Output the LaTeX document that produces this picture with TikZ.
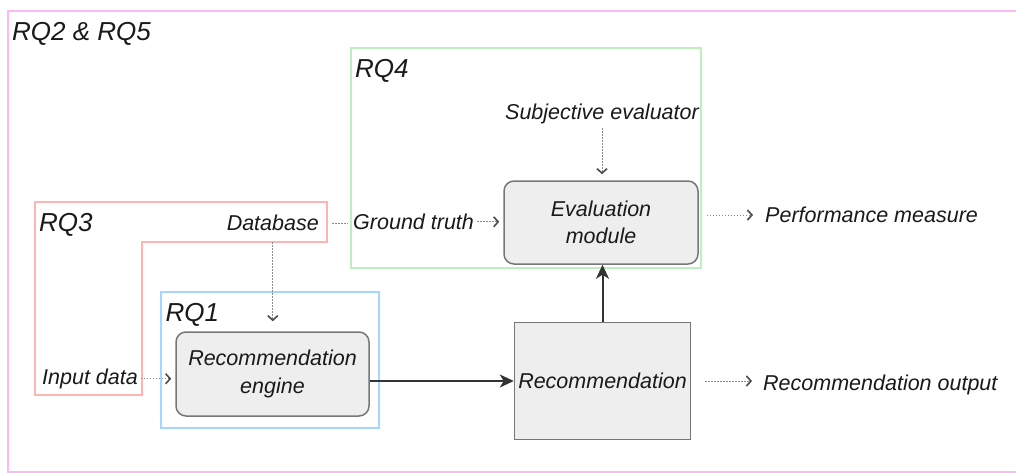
\documentclass[tikz,border=0pt]{standalone}
\usepackage{fontspec}
\setmainfont{Liberation Sans}
\usetikzlibrary{arrows.meta,calc}
\definecolor{pinkc}{HTML}{FFB8F5}
\definecolor{redc}{HTML}{FFB3B3}
\definecolor{greenc}{HTML}{BFEFBF}
\definecolor{bluec}{HTML}{A6D5FF}
\definecolor{boxfill}{HTML}{EEEEEE}
\definecolor{boxdraw}{HTML}{777777}
\definecolor{dotc}{HTML}{8C8C8C}
\definecolor{thickc}{HTML}{333333}
\definecolor{txtc}{HTML}{1A1A1A}
\begin{document}
\begin{tikzpicture}[x=1pt,y=-1pt,
  lbl/.style={inner sep=0pt, font=\fontsize{21.5}{28}\selectfont\itshape, text=txtc},
  rqlbl/.style={inner sep=0pt, font=\fontsize{26}{30}\selectfont\itshape, text=txtc},
  procbox/.style={draw=boxdraw, fill=boxfill, line width=1.5pt, rounded corners=10pt,
    align=center, inner sep=0pt, font=\fontsize{21.5}{27.5}\selectfont\itshape, text=txtc},
  recbox/.style={draw=boxdraw, fill=boxfill, line width=1.5pt,
    inner sep=0pt, font=\fontsize{21.5}{27.5}\selectfont\itshape, text=txtc,
    minimum width=176pt, minimum height=117pt},
  region/.style={line width=1.3pt},
  dotline/.style={draw=dotc, line width=1pt, dash pattern=on 1.5pt off 1.5pt},
  dotarrow/.style={dotline, -{Straight Barb[length=4.5pt,width=10pt,line width=1.6pt,color=black!70]}},
  thickarrow/.style={draw=thickc, line width=2pt, -{Stealth[length=14pt,width=13pt,inset=4pt]}}
]
\useasboundingbox (0,0) rectangle (1016,473);
\fill[white] (0,0) rectangle (1016,473);

% region frames
\draw[region, draw=pinkc] (1016,11) -- (8,11) -- (8,472) -- (1016,472);
\draw[region, draw=greenc] (351,48) rectangle (701,268);
\draw[region, draw=bluec] (161,292) rectangle (379,428);
\draw[region, draw=redc] (35,202) -- (327,202) -- (327,242) -- (142,242) -- (142,395) -- (35,395) -- cycle;

% region labels
\node[rqlbl, anchor=base west] (rq25) at (12,40.5) {RQ2 \& RQ5};
\node[rqlbl, anchor=base west] (rq4) at (355,78) {RQ4};
\node[rqlbl, anchor=base west] (rq3) at (39,231.5) {RQ3};
\node[rqlbl, anchor=base west] (rq1) at (165.5,321.5) {RQ1};

% process boxes
\node[procbox, minimum width=193pt, minimum height=84pt] (engine) at (272.5,374) {Recommendation\\engine};
\node[procbox, minimum width=194pt, minimum height=83pt] (eval) at (601,222.5) {Evaluation\\module};
\node[recbox] (rec) at (602.5,381) {Recommendation};

% text labels
\node[lbl, anchor=base east] (db) at (319,230.7) {Database};
\node[lbl, anchor=base west] (gt) at (353,229.5) {Ground truth};
\node[lbl, anchor=base west] (input) at (42,384.3) {Input data};
\node[lbl, anchor=base] (subj) at (602,119.3) {Subjective evaluator};
\node[lbl, anchor=base west] (perf) at (765,222.7) {Performance measure};
\node[lbl, anchor=base west] (out) at (763,390.7) {Recommendation output};

% dotted connectors
\draw[dotarrow, shorten <=2.5pt, shorten >=4pt] (input.east) -- (input.east -| engine.west);
\draw[dotarrow, shorten <=11pt, shorten >=10pt] (db.south) -- (db.south |- engine.north);
\draw[dotline, shorten <=13pt, shorten >=5pt] (db.east) -- (db.east -| gt.west);
\draw[dotarrow, shorten <=3pt, shorten >=4pt] (gt.east) -- (gt.east -| eval.west);
\draw[dotarrow, shorten <=4.5pt, shorten >=6pt] (subj.south) -- (subj.south |- eval.north);
\draw[dotarrow, shorten <=8pt, shorten >=12pt] (eval.east |- perf.west) -- (perf.west);
\draw[dotarrow, shorten <=14pt, shorten >=11pt] (rec.east) -- (rec.east -| out.west);

% solid connectors
\draw[thickarrow] (engine.east |- rec.west) -- (rec.west);
\draw[thickarrow] (rec.north) -- (rec.north |- eval.south);
\end{tikzpicture}
\end{document}
